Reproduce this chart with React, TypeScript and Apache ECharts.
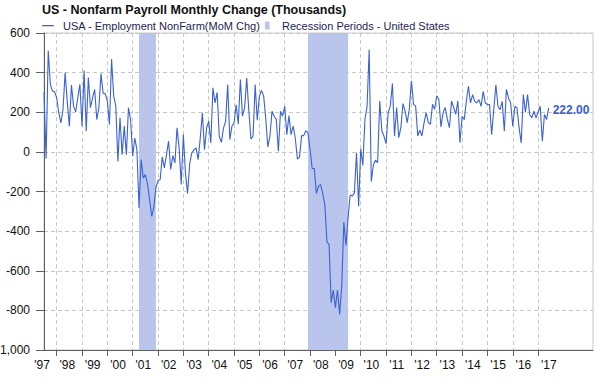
import React, { useEffect, useRef } from "react";
import * as echarts from "echarts";

// Monthly change in nonfarm payrolls (thousands), Jul 1997 – Jun 2017
const nfp1997 = [300, -34, 510, 341, 307, 304];
const nfp1998 = [273, 197, 146, 214, 400, 256, 129, 337, 231, 202, 273, 341];
const nfp1999 = [130, 410, 104, 375, 223, 273, 315, 163, 223, 395, 295, 294];
const nfp2000 = [256, 138, 468, 282, 231, -48, 172, -14, 130, -14, 222, 163];
const nfp2001 = [-22, 70, 11, -283, -39, -132, -115, -160, -240, -325, -280, -180];
const nfp2002 = [-145, -140, -25, -81, -14, 54, -89, -19, -56, 121, 20, -165];
const nfp2003 = [87, -110, -210, -60, -5, 10, 20, -39, 70, 197, 11, 121];
const nfp2004 = [155, 45, 323, 247, 300, 79, 48, 120, 154, 340, 62, 130];
const nfp2005 = [146, 238, 140, 365, 180, 222, 373, 210, 65, 79, 340, 160];
const nfp2006 = [280, 310, 284, 171, 25, 79, 205, 180, 163, 3, 205, 180];
const nfp2007 = [230, 87, 183, 87, 130, 70, -36, -26, 82, 82, 107, 96];
const nfp2008 = [12, -84, -84, -210, -173, -165, -209, -266, -455, -467, -761, -697];
const nfp2009 = [-786, -697, -820, -677, -354, -472, -333, -218, -223, -207, -5, -274];
const nfp2010 = [15, -69, 166, 230, 516, -150, -64, -42, -55, 257, 105, 80];
const nfp2011 = [41, 198, 232, 345, 80, 224, 72, 122, 244, 207, 148, 215];
const nfp2012 = [359, 240, 232, 80, 109, 80, 148, 198, 148, 139, 240, 215];
const nfp2013 = [283, 264, 126, 198, 224, 165, 122, 257, 224, 190, 257, 46];
const nfp2014 = [180, 163, 255, 331, 247, 289, 255, 247, 264, 230, 306, 247];
const nfp2015 = [239, 239, 87, 213, 339, 230, 213, 255, 104, 316, 272, 247];
const nfp2016 = [129, 230, 222, 121, 45, 289, 200, 289, 189, 172, 205, 172];
const nfp2017 = [200, 230, 54, 189, 163, 222];

// Recession periods (first month, month after end)
const recessionPeriods: [string, string][] = [
  ["2001-04", "2001-12"],
  ["2007-12", "2009-07"],
];

// Axis categories: months from Jul 1997 to Mar 2019
const axisStartYear = 1997;
const axisStartMonth = 7;
const axisMonthCount = 261;
const firstGridYear = 1998;
const lastGridYear = 2017;

const SERIES_NAME = "USA - Employment NonFarm(MoM Chg)";
const REC_NAME = "Recession Periods - United States";
const FONT = "'Liberation Sans', Arial, Helvetica, sans-serif";

function buildMonths(): string[] {
  const out: string[] = [];
  let y = axisStartYear;
  let m = axisStartMonth;
  for (let k = 0; k < axisMonthCount; k++) {
    out.push(`${y}-${m < 10 ? "0" + m : m}`);
    m++;
    if (m > 12) {
      m = 1;
      y++;
    }
  }
  return out;
}

const isGridMonth = (v: string) => {
  const y = Number(v.slice(0, 4));
  return v.slice(5) === "01" && y >= firstGridYear && y <= lastGridYear;
};
const isLabelMonth = (v: string) => {
  const y = Number(v.slice(0, 4));
  return v.slice(5) === "07" && y <= lastGridYear;
};
const fmtY = (v: number) => {
  const a = Math.abs(v);
  const s = a >= 1000 ? `${Math.floor(a / 1000)},${String(a % 1000).padStart(3, "0")}` : String(a);
  return (v < 0 ? "-" : "") + s;
};

export default function App() {
  const ref = useRef<HTMLDivElement>(null);
  useEffect(() => {
    document.body.style.margin = "0";
    if (!ref.current) return;
    const chart = echarts.init(ref.current, undefined, { renderer: "svg" });
    const months = buildMonths();
    const values = [
      ...nfp1997, ...nfp1998, ...nfp1999, ...nfp2000, ...nfp2001, ...nfp2002, ...nfp2003,
      ...nfp2004, ...nfp2005, ...nfp2006, ...nfp2007, ...nfp2008, ...nfp2009, ...nfp2010,
      ...nfp2011, ...nfp2012, ...nfp2013, ...nfp2014, ...nfp2015, ...nfp2016, ...nfp2017,
    ];
    const axisColor = "#5f5f5f";
    const gridColor = "#c8c8c8";
    const lineColor = "#3b62d4";
    const recColor = "#b9c5ec";
    chart.setOption({
      animation: false,
      backgroundColor: "#ffffff",
      title: {
        text: "US - Nonfarm Payroll Monthly Change (Thousands)",
        left: 42,
        top: 3,
        padding: 0,
        textStyle: { fontFamily: FONT, fontSize: 12.5, fontWeight: "bold", color: "#111111" },
      },
      legend: [
        {
          left: 42,
          top: 20,
          padding: 0,
          itemWidth: 12,
          itemHeight: 8,
          selectedMode: false,
          data: [{ name: SERIES_NAME, icon: "path://M0,3.5h12v1.2h-12z M0,0h0.01v0.01h-0.01z M0,7.99h0.01v0.01h-0.01z" }],
          textStyle: { fontFamily: FONT, fontSize: 11, color: "#1e1e50", padding: [0, 0, 0, 4] },
        },
        {
          left: 265,
          top: 20,
          padding: 0,
          itemWidth: 12,
          itemHeight: 8,
          selectedMode: false,
          data: [{ name: REC_NAME, icon: "path://M0,0h4.5v8h-4.5z M11.99,7.99h0.01v0.01h-0.01z" }],
          textStyle: { fontFamily: FONT, fontSize: 11, color: "#1e1e50", padding: 0 },
        },
      ],
      grid: { left: 44, right: 7, top: 33, bottom: 37, show: true, borderColor: gridColor, borderWidth: 1, outerBoundsMode: "none", containLabel: false },
      xAxis: {
        type: "category",
        data: months,
        boundaryGap: false,
        axisLine: { show: true, onZero: false, lineStyle: { color: axisColor, width: 1 } },
        axisTick: { show: true, length: 6, interval: (_i: number, v: string) => isGridMonth(v), lineStyle: { color: axisColor } },
        axisLabel: {
          interval: (_i: number, v: string) => isLabelMonth(v),
          formatter: (v: string) => "'" + v.slice(2, 4),
          fontFamily: FONT,
          fontSize: 12,
          color: "#111111",
          margin: 9,
          padding: [0, 4, 0, 0],
        },
        splitLine: { show: true, interval: (_i: number, v: string) => isGridMonth(v), lineStyle: { color: gridColor, type: [4, 3], width: 1 } },
      },
      yAxis: {
        type: "value",
        min: -1000,
        max: 600,
        interval: 200,
        axisLine: { show: true, lineStyle: { color: axisColor, width: 1 } },
        axisTick: { show: true, length: 8, lineStyle: { color: axisColor } },
        axisLabel: { formatter: (v: number) => fmtY(v), fontFamily: FONT, fontSize: 12, color: "#111111", margin: 14 },
        splitLine: { show: true, lineStyle: { color: gridColor, type: [4, 3], width: 1 } },
      },
      series: [
        {
          name: REC_NAME,
          type: "line",
          data: [],
          symbol: "none",
          itemStyle: { color: recColor },
          lineStyle: { color: recColor },
        },
        {
          name: SERIES_NAME,
          type: "line",
          data: values,
          symbol: "none",
          showSymbol: false,
          z: 3,
          itemStyle: { color: lineColor },
          lineStyle: { color: lineColor, width: 1.1 },
          markArea: {
            silent: true,
            itemStyle: { color: recColor, opacity: 1 },
            data: recessionPeriods.map(([s, e]) => [{ xAxis: months.indexOf(s) }, { xAxis: months.indexOf(e) }]),
          },
          endLabel: {
            show: true,
            formatter: (p: any) => Number(Array.isArray(p.value) ? p.value[1] : p.value).toFixed(2),
            color: "#3a5fcd",
            fontFamily: FONT,
            fontSize: 12,
            fontWeight: "bold",
            distance: 4,
            offset: [0, 2],
          },
        },
      ],
    });
    return () => chart.dispose();
  }, []);
  return <div ref={ref} style={{ width: 600, height: 387 }} />;
}
